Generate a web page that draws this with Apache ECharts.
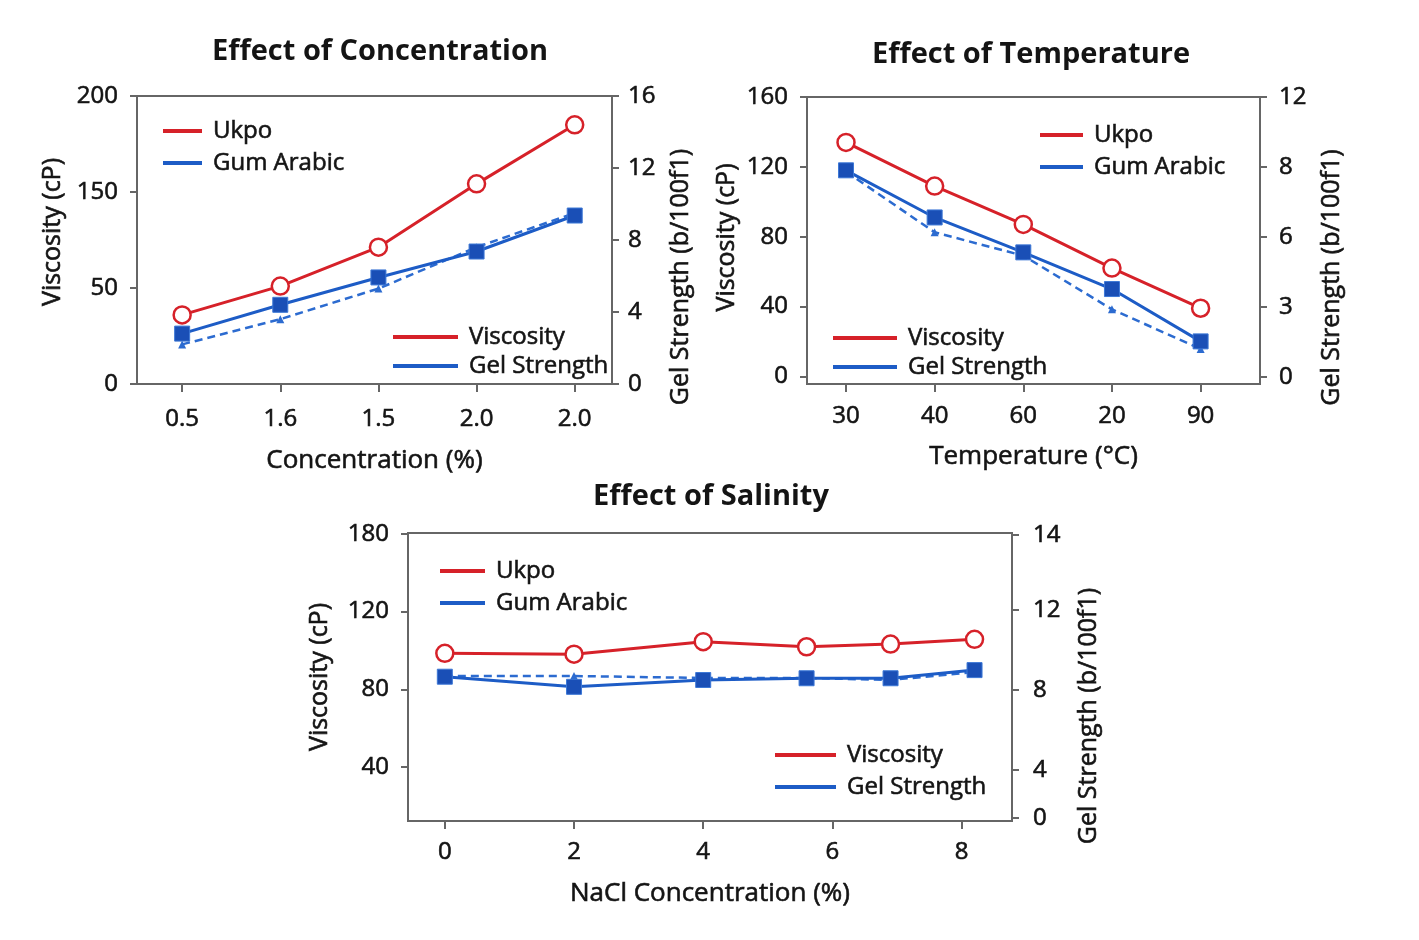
<!DOCTYPE html>
<html>
<head>
<meta charset="utf-8">
<title>Effect of Concentration, Temperature and Salinity</title>
<script src="https://cdn.jsdelivr.net/npm/echarts@6/dist/echarts.min.js"></script>
<style>
  html, body { margin: 0; padding: 0; background: #fff; }
  #main { width: 1419px; height: 940px; }
</style>
</head>
<body>
<div id="main"></div>
<script>
// panel 1: concentration
const concLabels = ["0.5", "1.6", "1.5", "2.0", "2.0"];
const concUkpo = [48, 68, 95, 139, 180];
const concGum = [35, 55, 74, 92, 117];
const concGel = [2.2, 3.6, 5.3, 7.6, 9.5];
const concViscTicks = ["0", "50", "150", "200"];
const concGelTicks = ["0", "4", "8", "12", "16"];

// panel 2: temperature
const tempLabels = ["30", "40", "60", "20", "90"];
const tempUkpo = [134, 109, 87, 62, 39];
const tempGum = [118, 91, 71, 50, 20];
const tempGel = [8.8, 6.2, 5.2, 2.9, 1.2];
const tempViscTicks = ["0", "40", "80", "120", "160"];
const tempGelTicks = ["0", "3", "6", "8", "12"];

// panel 3: salinity
const saltX = [0, 2, 4, 5.6, 6.9, 8.2];
const saltUkpo = [98.5, 98.1, 104.5, 101.9, 103.3, 105.7];
const saltGum = [86.5, 81.3, 84.8, 85.7, 85.7, 89.9];
const saltGel = [8.7, 8.7, 8.6, 8.6, 8.5, 8.9];
const saltXTicks = ["0", "2", "4", "6", "8"];
const saltViscTicks = ["40", "80", "120", "180"];
const saltGelTicks = ["0", "4", "8", "12", "14"];

const RED = "#d62129";
const BLUE = "#1d5cc6";
const GRAY = "#666";
const INK = "#141414";
const FONT = "Open Sans";
// thin outline to give the regular face a slightly heavier look
const HEAVY = { textBorderColor: INK, textBorderWidth: 0.6 };

const chart = echarts.init(document.getElementById("main"));

function pairs(xs, ys) {
  return ys.map((y, i) => [xs[i], y]);
}
const idx5 = [0, 1, 2, 3, 4];

function labelMap(values, labels) {
  return function (v) {
    for (let i = 0; i < values.length; i++) {
      if (Math.abs(values[i] - v) < 1e-6) return labels[i];
    }
    return "";
  };
}

function xAxis(gridIndex, min, max, values, labels, name, margin, nameGap) {
  return {
    type: "value", gridIndex, min, max,
    name, nameLocation: "middle", nameGap,
    nameTextStyle: Object.assign({ fontFamily: FONT, fontSize: 26, color: INK }, HEAVY),
    axisLine: { show: true, onZero: false, lineStyle: { color: GRAY, width: 2 } },
    axisTick: { show: true, length: 8, customValues: values, lineStyle: { color: GRAY, width: 2 } },
    axisLabel: Object.assign({ customValues: values, formatter: labelMap(values, labels), margin,
      fontFamily: FONT, fontSize: 24, color: INK }, HEAVY),
    splitLine: { show: false },
  };
}

function yAxis(gridIndex, pos, min, max, values, labels, name, nameGap, margin, shift) {
  return {
    type: "value", gridIndex, position: pos, min, max,
    name, nameLocation: "middle", nameGap, nameRotate: 90,
    nameTextStyle: Object.assign({ fontFamily: FONT, fontSize: 25, color: INK,
      padding: shift > 0 ? [0, shift, 0, 0] : [0, 0, 0, -shift] }, HEAVY),
    axisLine: { show: true, onZero: false, lineStyle: { color: GRAY, width: 2 } },
    axisTick: { show: true, length: 7, customValues: values, lineStyle: { color: GRAY, width: 2 } },
    axisLabel: Object.assign({ customValues: values, formatter: labelMap(values, labels), margin,
      fontFamily: FONT, fontSize: 24, color: INK }, HEAVY),
    splitLine: { show: false },
  };
}

function evenSteps(min, max, n) {
  const out = [];
  for (let i = 0; i < n; i++) out.push(min + (max - min) * i / (n - 1));
  return out;
}

function ukpo(x, y, data) {
  return {
    type: "line", name: "Ukpo", xAxisIndex: x, yAxisIndex: y, data, z: 4,
    symbol: "circle", symbolSize: 17,
    lineStyle: { color: RED, width: 3 },
    itemStyle: { color: "#fff", borderColor: RED, borderWidth: 2.5 },
  };
}
function gum(x, y, data) {
  return {
    type: "line", name: "Gum Arabic", xAxisIndex: x, yAxisIndex: y, data, z: 3,
    symbol: "rect", symbolSize: 15,
    lineStyle: { color: BLUE, width: 3 },
    itemStyle: { color: "#1a4fb6", borderColor: "#3d78d6", borderWidth: 1 },
  };
}
function gel(x, y, data) {
  return {
    type: "line", name: "Gel Strength", xAxisIndex: x, yAxisIndex: y, data, z: 2,
    symbol: "triangle", symbolSize: 8,
    lineStyle: { color: "#2c6bd0", width: 2.5, type: [8, 5] },
    itemStyle: { color: "#2c6bd0" },
  };
}

// legend blocks drawn as line + text
function legendItem(x1, x2, y, color, text) {
  return [
    { type: "line", shape: { x1, y1: y, x2, y2: y }, style: { stroke: color, lineWidth: 4 }, z: 10 },
    { type: "text", x: x2 + 11, y, z: 10,
      style: { text, font: "24px " + FONT, fill: INK, stroke: INK, lineWidth: 0.6, textVerticalAlign: "middle" } },
  ];
}
function title(x, y, text) {
  return { type: "text", x, y, z: 10,
    style: { text, font: "bold 29px " + FONT, fill: INK, textAlign: "center", textVerticalAlign: "middle" } };
}

const graphics = [].concat(
  title(380, 52, "Effect of Concentration"),
  title(1031, 55, "Effect of Temperature"),
  title(711, 497, "Effect of Salinity"),
  legendItem(163, 202, 131, RED, "Ukpo"),
  legendItem(163, 202, 163, BLUE, "Gum Arabic"),
  legendItem(393, 458, 337, RED, "Viscosity"),
  legendItem(393, 458, 366, BLUE, "Gel Strength"),
  legendItem(1040, 1083, 135, RED, "Ukpo"),
  legendItem(1040, 1083, 167, BLUE, "Gum Arabic"),
  legendItem(833, 897, 338, RED, "Viscosity"),
  legendItem(833, 897, 367, BLUE, "Gel Strength"),
  legendItem(440, 485, 571, RED, "Ukpo"),
  legendItem(440, 485, 603, BLUE, "Gum Arabic"),
  legendItem(775, 836, 755, RED, "Viscosity"),
  legendItem(775, 836, 787, BLUE, "Gel Strength")
);

const gridBase = { show: true, borderColor: GRAY, borderWidth: 2, backgroundColor: "#fff" };

const option = {
  backgroundColor: "#fff",
  animation: false,
  grid: [
    Object.assign({ left: 137, top: 96, width: 475, height: 288 }, gridBase),
    Object.assign({ left: 807, top: 97, width: 453, height: 287 }, gridBase),
    Object.assign({ left: 408, top: 533, width: 604, height: 288 }, gridBase),
  ],
  xAxis: [
    xAxis(0, -0.46, 4.38, idx5, concLabels, "Concentration (%)", 23, 64),
    xAxis(1, -0.44, 4.67, idx5, tempLabels, "Temperature (°C)", 20, 60),
    xAxis(2, -0.57, 8.78, [0, 2, 4, 6, 8], saltXTicks, "NaCl Concentration (%)", 19, 60),
  ],
  yAxis: [
    yAxis(0, "left", 0, 200, evenSteps(0, 200, concViscTicks.length), concViscTicks, "Viscosity (cP)", 72, 19, -16),
    yAxis(0, "right", 0, 16, evenSteps(0, 16, concGelTicks.length), concGelTicks, "Gel Strength (b/100f1)", 56, 16, 74),
    yAxis(1, "left", -4.4, 160, evenSteps(0, 160, tempViscTicks.length), tempViscTicks, "Viscosity (cP)", 68, 19, -6),
    yAxis(1, "right", -0.3, 12, evenSteps(0, 12, tempGelTicks.length), tempGelTicks, "Gel Strength (b/100f1)", 59, 19, 74),
    yAxis(2, "left", 12.3, 160.4, [40, 80, 120, 160], saltViscTicks, "Viscosity (cP)", 76, 19, 0),
    yAxis(2, "right", 1.45, 15.85, [1.6, 4, 8, 12, 15.75], saltGelTicks, "Gel Strength (b/100f1)", 64, 21, 78),
  ],
  series: [
    gel(0, 1, pairs(idx5, concGel)),
    gum(0, 0, pairs(idx5, concGum)),
    ukpo(0, 0, pairs(idx5, concUkpo)),
    gel(1, 3, pairs(idx5, tempGel)),
    gum(1, 2, pairs(idx5, tempGum)),
    ukpo(1, 2, pairs(idx5, tempUkpo)),
    gel(2, 5, pairs(saltX, saltGel)),
    gum(2, 4, pairs(saltX, saltGum)),
    ukpo(2, 4, pairs(saltX, saltUkpo)),
  ],
  graphic: graphics,
};

chart.setOption(option);
</script>
</body>
</html>
